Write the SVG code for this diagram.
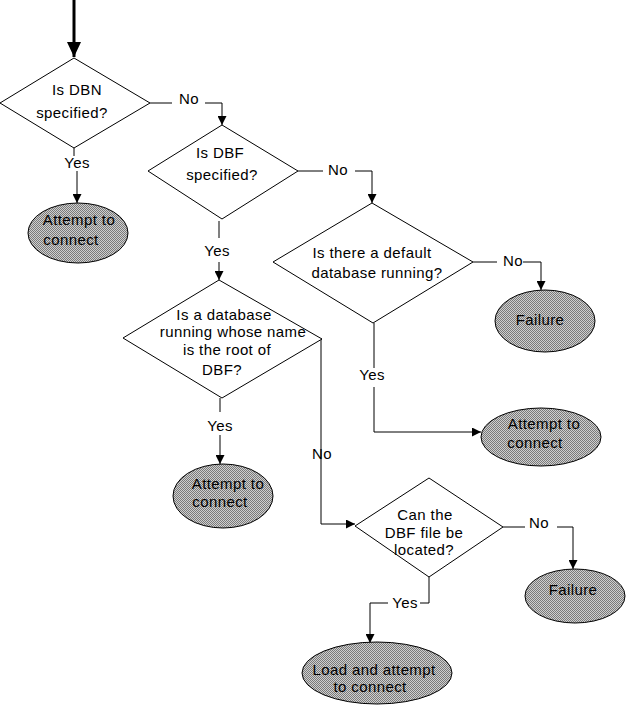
<svg xmlns="http://www.w3.org/2000/svg" width="626" height="710" viewBox="0 0 626 710">
<style>
text{font-family:"Liberation Sans",Arial,sans-serif;font-size:15px;fill:#000;text-anchor:middle;letter-spacing:0.4px}
.shape{fill:#fff;stroke:#000;stroke-width:1}
.term{fill:url(#dither);stroke:#000;stroke-width:1}
.c{fill:none;stroke:#000;stroke-width:1}
.ca{fill:none;stroke:#000;stroke-width:1;marker-end:url(#ah)}
</style>
<defs>
<pattern id="dither" width="2" height="2" patternUnits="userSpaceOnUse">
<rect width="2" height="2" fill="#cfcfcf"/>
<rect width="1" height="1" fill="#7a7a7a"/>
<rect x="1" y="1" width="1" height="1" fill="#7a7a7a"/>
</pattern>
<marker id="ah" markerUnits="userSpaceOnUse" markerWidth="9" markerHeight="9" refX="9" refY="4.5" orient="auto">
<path d="M0,0 L9,4.5 L0,9 z" fill="#000"/>
</marker>
<marker id="big" markerUnits="userSpaceOnUse" markerWidth="16" markerHeight="16" refX="15" refY="7" orient="auto">
<path d="M0,0 L15,7 L0,14 z" fill="#000"/>
</marker>
</defs>
<rect width="626" height="710" fill="#fff"/>
<g id="connectors">
<line x1="74" y1="0" x2="74" y2="57" stroke="#000" stroke-width="3" marker-end="url(#big)"/>
<polyline class="c" points="74,148 74,156"/>
<text x="77" y="168">Yes</text>
<polyline class="ca" points="77,171 77,203"/>
<polyline class="c" points="150,103 172,103"/>
<text x="189" y="104">No</text>
<polyline class="ca" points="205,103 222,103 222,125"/>
<polyline class="c" points="298,171 323,171"/>
<text x="338" y="175">No</text>
<polyline class="ca" points="355,171 372,171 372,203"/>
<polyline class="c" points="219,221 219,238"/>
<text x="217" y="256">Yes</text>
<polyline class="ca" points="219,262 219,280"/>
<polyline class="c" points="473,262 497,262"/>
<text x="513" y="266">No</text>
<polyline class="ca" points="523,262 541,262 541,290"/>
<polyline class="c" points="374,323 374,368"/>
<text x="372" y="380">Yes</text>
<polyline class="ca" points="374,387 374,432 481,432"/>
<polyline class="c" points="220,398 220,412"/>
<text x="220" y="431">Yes</text>
<polyline class="ca" points="220,435 220,464"/>
<polyline class="ca" points="322,339 321,339 321,524 355,524"/>
<text x="322" y="459">No</text>
<polyline class="c" points="503,527 525,527"/>
<text x="539" y="528">No</text>
<polyline class="ca" points="557,527 573,527 573,569"/>
<polyline class="c" points="429,577 429,603 420,603"/>
<text x="405" y="608">Yes</text>
<polyline class="ca" points="388,603 370,603 370,643"/>
</g>
<g id="d1">
<polygon class="shape" points="74,58 150,103 74,148 0,103"/>
<text x="77" y="95">Is DBN</text>
<text x="72" y="118">specified?</text>
</g>
<g id="e1">
<ellipse class="term" cx="78" cy="233" rx="50" ry="30"/>
<text x="79" y="225">Attempt to</text>
<text x="71" y="245">connect</text>
</g>
<g id="d2">
<polygon class="shape" points="222,125 298,171 222,219 148,171"/>
<text x="220" y="158">Is DBF</text>
<text x="222" y="180">specified?</text>
</g>
<g id="d3">
<polygon class="shape" points="372,203 473,262 373,323 273,262"/>
<text x="372" y="258">Is there a default</text>
<text x="377" y="278">database running?</text>
</g>
<g id="e2">
<ellipse class="term" cx="545" cy="321" rx="50" ry="31"/>
<text x="540" y="325">Failure</text>
</g>
<g id="e3">
<ellipse class="term" cx="541" cy="437" rx="60" ry="29"/>
<text x="544" y="429">Attempt to</text>
<text x="535" y="448">connect</text>
</g>
<g id="d4">
<polygon class="shape" points="219,280 322,339 222,398 123,338"/>
<text x="224" y="320">Is a database</text>
<text x="233" y="337">running whose name</text>
<text x="227" y="355">is the root of</text>
<text x="222" y="375">DBF?</text>
</g>
<g id="e4">
<ellipse class="term" cx="223" cy="496" rx="50" ry="32"/>
<text x="228" y="489">Attempt to</text>
<text x="220" y="507">connect</text>
</g>
<g id="d5">
<polygon class="shape" points="429,478 503,527 429,577 355,526"/>
<text x="425" y="520">Can the</text>
<text x="424" y="538">DBF file be</text>
<text x="424" y="555">located?</text>
</g>
<g id="e5">
<ellipse class="term" cx="575" cy="596" rx="50" ry="27"/>
<text x="573" y="595">Failure</text>
</g>
<g id="e6">
<ellipse class="term" cx="377" cy="673" rx="75" ry="31"/>
<text x="374" y="675">Load and attempt</text>
<text x="370" y="692">to connect</text>
</g>
</svg>
